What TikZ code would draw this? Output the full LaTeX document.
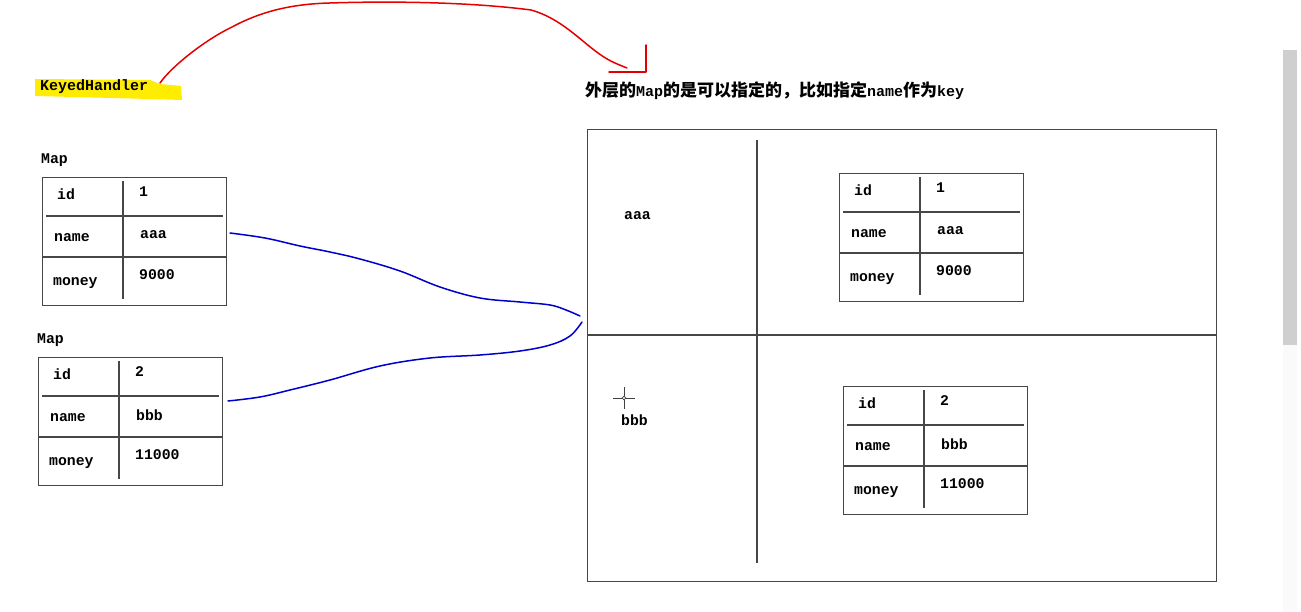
\documentclass[tikz,border=0pt]{standalone}
\usepackage{fontspec}
\setmonofont{Liberation Mono}
\newfontfamily\cjk{Noto Sans CJK SC}
\begin{document}
\begin{tikzpicture}[x=1pt,y=-1pt,
  cell/.style={font=\ttfamily\bfseries\fontsize{14.8}{15}\selectfont, anchor=west, inner sep=0pt},
  gridline/.style={draw=black!72, line width=1.3pt},
  tblbox/.style={draw=black!72, line width=1.3pt, minimum width=184pt, minimum height=128pt, anchor=north west, inner sep=0pt},
  redpen/.style={draw=red!90!black, line width=1.5pt, line cap=round, line join=round},
  bluepen/.style={draw=blue!80!black, line width=1.5pt, line cap=round, line join=round}]
\useasboundingbox (0,0) rectangle (1301,612);
\fill[white] (0,0) rectangle (1301,612);

% scrollbar
\fill[black!2] (1283,345) rectangle (1297,612);
\fill[black!19] (1283,50) rectangle (1297,345);

\newcommand\maptable[7]{%
  \node[tblbox] (#1) at (#2,#3) {};
  \draw[gridline] ([shift={(81,4)}]#1.north west) -- ([shift={(81,122)}]#1.north west);
  \draw[gridline] ([shift={(4,39)}]#1.north west) -- ([shift={(181,39)}]#1.north west);
  \draw[gridline] ([shift={(0,80)}]#1.north west) -- ([shift={(184,80)}]#1.north west);
  \node[cell] (#1-k1) at ([shift={(15,17)}]#1.north west) {id};
  \node[cell] (#1-v1) at ([shift={(97,15)}]#1.north west) {#4};
  \node[cell] (#1-k2) at ([shift={(12,61)}]#1.north west) {name};
  \node[cell] (#1-v2) at ([shift={(98,58)}]#1.north west) {#5};
  \node[cell] (#1-k3) at ([shift={(11,106)}]#1.north west) {money};
  \node[cell] (#1-v3) at ([shift={(97,98)}]#1.north west) {#6};
}

% KeyedHandler with highlight
\fill[yellow!95!orange] (35,79) -- (150,80) -- (160,84) -- (181,86) -- (182,100) -- (150,99) -- (35,96) -- cycle;
\node[cell, font=\ttfamily\bfseries\fontsize{15}{15}\selectfont] (kh) at (40,87) {KeyedHandler};

% left maps
\node[cell] (map1) at (41,160) {Map};
\maptable{ta}{42}{177}{1}{aaa}{9000}{}
\node[cell] (map2) at (37,340) {Map};
\maptable{tb}{38}{357}{2}{bbb}{11000}{}

% top caption
\node[anchor=west, inner sep=0pt, font=\fontsize{17}{18}\selectfont] (cap) at (585,91)
  {\cjk\bfseries 外层的{\ttfamily\fontsize{15}{18}\selectfont Map}的是可以指定的，比如指定{\ttfamily\fontsize{15}{18}\selectfont name}作为{\ttfamily\fontsize{15}{18}\selectfont key}};

% outer map
\node[draw=black!72, line width=1.3pt, minimum width=629pt, minimum height=452pt, anchor=north west, inner sep=0pt] (outer) at (587,129) {};
\coordinate (vtop) at (757,140);
\coordinate (vbot) at (757,563);
\draw[gridline] (vtop) -- (vbot);
\coordinate (hl) at (587,335);
\draw[gridline] (hl) -- (outer.east |- hl);
\node[cell] (ka) at (624,216) {aaa};
\node[cell] (kb) at (621,420) {bbb};
% cursor crosshair
\coordinate (cur) at (624,398);
\draw[black!75, line width=0.9pt] ([xshift=-11pt]cur) -- ([xshift=-2pt]cur) ([xshift=2pt]cur) -- ([xshift=11pt]cur)
  ([yshift=-11pt]cur) -- ([yshift=-2pt]cur) ([yshift=2pt]cur) -- ([yshift=11pt]cur);
\draw[black!75, line width=0.7pt] (cur) circle (1.8pt);

\maptable{tc}{839}{173}{1}{aaa}{9000}{}
\maptable{td}{843}{386}{2}{bbb}{11000}{}

% red arrow
\coordinate (rs) at (160,83);
\coordinate (re) at (627,68);
\draw[redpen] (rs) .. controls (172,66) and (205,40) .. (232,27)
  .. controls (260,12) and (290,4) .. (330,3)
  .. controls (390,1) and (470,2) .. (531,10)
  .. controls (560,18) and (580,40) .. (598,53)
  .. controls (610,62) and (620,65) .. (re);
\coordinate (h1) at (609,72);
\coordinate (h2) at (646,72);
\coordinate (h3) at (646,45);
\draw[redpen] (h1) -- (h2) -- (h3);

% blue connectors
\coordinate (b1s) at (230,233);
\coordinate (b1e) at (580,316);
\draw[bluepen] plot[smooth, tension=0.6] coordinates {(b1s) (265,238) (300,246) (330,252) (360,259) (400,271) (440,287) (480,298) (520,302) (550,305) (566,310) (b1e)};
\coordinate (b2s) at (228,401);
\coordinate (b2e) at (582,322);
\draw[bluepen] plot[smooth, tension=0.6] coordinates {(b2s) (260,397) (290,390) (330,380) (380,366) (430,358) (480,355) (520,351) (550,345) (570,336) (b2e)};
\end{tikzpicture}
\end{document}
